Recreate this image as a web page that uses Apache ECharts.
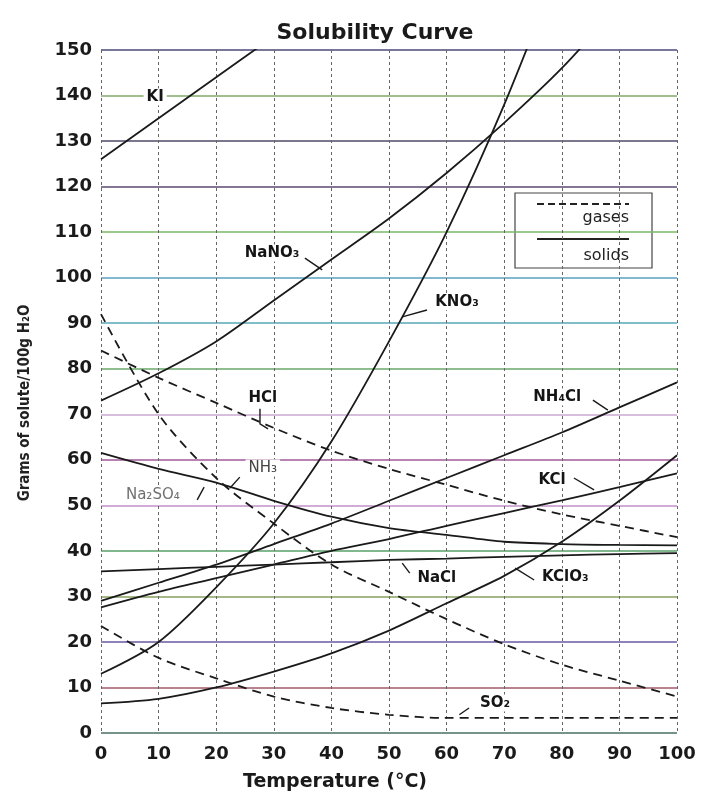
<!DOCTYPE html>
<html>
<head>
<meta charset="utf-8">
<title>Solubility Curve</title>
<script src="https://cdn.jsdelivr.net/npm/echarts@6/dist/echarts.min.js"></script>
<style>
  html, body { margin: 0; padding: 0; background: #fff; }
  #main { width: 704px; height: 794px; }
</style>
</head>
<body>
<div id="main"></div>
<script>
// temperature (deg C) and solubility (g solute / 100 g water)
const temps = [0, 10, 20, 30, 40, 50, 60, 70, 80, 90, 100]
const KI = [126, 135, 144, 153]
const NaNO3 = [73, 79, 86, 95, 104, 113, 123, 134, 146, 160]
const KNO3 = [13, 20, 32, 46, 64, 86, 110, 138, 170]
const NH4Cl = [29, 33, 37, 41.5, 46, 51, 56, 61, 66, 71.5, 77]
const KCl = [27.6, 31, 34, 37, 40, 42.6, 45.5, 48.3, 51.1, 54, 57]
const NaCl = [35.5, 36, 36.5, 37, 37.5, 38, 38.3, 38.7, 39, 39.3, 39.5]
const KClO3 = [6.5, 7.5, 10, 13.5, 17.5, 22.5, 28.5, 34.5, 42, 51, 61]
const Na2SO4 = [61.5, 58, 55, 51, 47.5, 45, 43.5, 42, 41.5, 41.3, 41.2]
// gases
const HCl = [84, 78, 72.5, 67, 62, 58, 54.5, 51, 48, 45.5, 43]
const NH3 = [92, 70, 56, 46, 37, 31, 25, 19.5, 15, 11.5, 8]
const SO2 = [23.5, 16.5, 12, 8, 5.5, 4, 3.3, 3.3, 3.3, 3.3, 3.3]

// curve labels: text, temp, grams
const curveLabels = [
  ['KI', 9.4, 139.7],
  ['NaNO₃', 29.7, 105.4],
  ['KNO₃', 61.8, 94.7],
  ['HCl', 28.1, 73.6],
  ['NH₃', 28.1, 58.2],
  ['Na₂SO₄', 9.0, 52.3],
  ['NH₄Cl', 79.2, 73.8],
  ['KCl', 78.3, 55.6],
  ['NaCl', 58.3, 34.0],
  ['KClO₃', 80.6, 34.3],
  ['SO₂', 68.4, 6.6]
]
// leader lines from labels to curves
const leaders = [
  [[35.4, 104.3], [38.4, 101.7]],
  [[56.6, 92.9], [52.3, 91.4]],
  [[27.6, 71.2], [27.6, 67.9], [29.0, 66.8]],
  [[24.1, 56.2], [22.4, 53.8]],
  [[16.7, 51.2], [17.9, 54.0]],
  [[85.4, 73.1], [88.0, 70.9]],
  [[82.1, 56.0], [85.6, 53.4]],
  [[52.3, 37.3], [53.6, 35.1]],
  [[75.2, 33.6], [71.9, 36.2]],
  [[63.9, 5.5], [62.2, 4.0]]
]

const gridColors = ['#4a7060', '#a05a68', '#6a58a0', '#88a060', '#58a068', '#c090c8', '#a05898',
  '#c8a8d0', '#68a868', '#58a8b8', '#58a0c0', '#78b868', '#5a4a70', '#504a68', '#80a868', '#4a4a78']

const FONT = 'DejaVu Sans'

function pairs (arr) {
  return arr.map((v, i) => [temps[i], v])
}

function curve (name, arr, dashed) {
  return {
    name: name,
    type: 'line',
    data: pairs(arr),
    smooth: 0.3,
    showSymbol: false,
    clip: true,
    z: 3,
    lineStyle: { color: '#1a1a1a', width: 1.8, type: dashed ? [9, 6] : 'solid' }
  }
}

const myChart = echarts.init(document.getElementById('main'))

const option = {
  backgroundColor: '#fff',
  animation: false,
  title: {
    text: 'Solubility Curve',
    left: 370,
    top: 17,
    textAlign: 'center',
    textStyle: { fontFamily: FONT, fontSize: 22, fontWeight: 'bold', color: '#1a1a1a' }
  },
  grid: { left: 101, top: 50, width: 576, height: 683 },
  xAxis: {
    type: 'value',
    min: 0,
    max: 100,
    interval: 10,
    axisLine: { show: false },
    axisTick: { show: false },
    axisLabel: { margin: 12, fontFamily: FONT, fontSize: 18, fontWeight: 'bold', color: '#1a1a1a' },
    splitLine: { show: true, lineStyle: { color: '#666', width: 1, type: [3, 3] } }
  },
  yAxis: {
    type: 'value',
    min: 0,
    max: 150,
    interval: 10,
    axisLine: { show: false },
    axisTick: { show: false },
    axisLabel: { margin: 9, fontFamily: FONT, fontSize: 18, fontWeight: 'bold', color: '#1a1a1a' },
    splitLine: { show: true, lineStyle: { color: gridColors, width: 1.6 } }
  },
  graphic: [
    {
      type: 'text',
      rotation: Math.PI / 2,
      x: 25,
      y: 403,
      style: {
        text: 'Grams of solute/100g H₂O',
        font: 'bold 15px "DejaVu Sans Condensed", "DejaVu Sans"',
        fill: '#222',
        textAlign: 'center',
        textVerticalAlign: 'middle'
      }
    },
    {
      type: 'text',
      x: 335,
      y: 782,
      style: {
        text: 'Temperature (°C)',
        font: 'bold 19px "DejaVu Sans"',
        fill: '#1a1a1a',
        textAlign: 'center',
        textVerticalAlign: 'middle'
      }
    },
    {
      type: 'group',
      z: 10,
      children: [
        { type: 'rect', shape: { x: 515, y: 193, width: 137, height: 75 }, style: { fill: '#fff', stroke: '#444', lineWidth: 1.2 } },
        { type: 'line', shape: { x1: 537, y1: 204, x2: 629, y2: 204 }, style: { stroke: '#222', lineWidth: 1.8, lineDash: [7, 4] } },
        { type: 'text', x: 629, y: 218, style: { text: 'gases', font: '16px "DejaVu Sans"', fill: '#222', textAlign: 'right', textVerticalAlign: 'middle' } },
        { type: 'line', shape: { x1: 537, y1: 239, x2: 629, y2: 239 }, style: { stroke: '#222', lineWidth: 1.8 } },
        { type: 'text', x: 629, y: 256, style: { text: 'solids', font: '16px "DejaVu Sans"', fill: '#222', textAlign: 'right', textVerticalAlign: 'middle' } }
      ]
    }
  ],
  series: [
    curve('KI', KI),
    curve('NaNO3', NaNO3),
    curve('KNO3', KNO3),
    curve('NH4Cl', NH4Cl),
    curve('KCl', KCl),
    curve('NaCl', NaCl),
    curve('KClO3', KClO3),
    curve('Na2SO4', Na2SO4),
    curve('HCl', HCl, true),
    curve('NH3', NH3, true),
    curve('SO2', SO2, true),
    {
      name: 'leaders',
      type: 'lines',
      coordinateSystem: 'cartesian2d',
      polyline: true,
      z: 4,
      lineStyle: { color: '#1a1a1a', width: 1.4, opacity: 1 },
      data: leaders.map(c => ({ coords: c }))
    },
    {
      name: 'labels',
      type: 'scatter',
      symbolSize: 0,
      z: 5,
      silent: true,
      itemStyle: { opacity: 1 },
      data: curveLabels.map(l => {
        const faint = l[0] === 'Na₂SO₄' || l[0] === 'NH₃'
        return {
          value: [l[1], l[2]],
          label: {
            show: true,
            position: 'inside',
            formatter: l[0],
            fontFamily: FONT,
            fontSize: 15,
            fontWeight: faint ? 'normal' : 'bold',
            color: l[0] === 'Na₂SO₄' ? '#707070' : (faint ? '#444' : '#151515'),
            opacity: 1,
            backgroundColor: '#fff',
            padding: [1, 3]
          }
        }
      })
    }
  ]
}

myChart.setOption(option)
</script>
</body>
</html>
